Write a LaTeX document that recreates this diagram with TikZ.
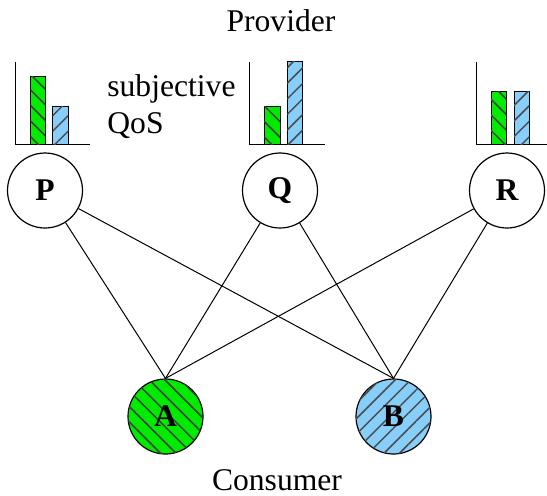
\documentclass[tikz,border=0pt]{standalone}
\usepackage{fontspec}
\setmainfont{LiberationSerif}[Extension=.ttf, UprightFont=*-Regular, BoldFont=*-Bold, ItalicFont=*-Italic, BoldItalicFont=*-BoldItalic]
\usetikzlibrary{patterns.meta}
\definecolor{qgreen}{RGB}{0,235,0}
\definecolor{qblue}{RGB}{135,206,250}
\tikzset{
  txt/.style={font=\fontsize{15.8}{18}\selectfont, inner sep=0pt},
  peer/.style={circle, draw, line width=0.6pt, minimum size=37.5pt, inner sep=0pt,
    font=\fontsize{15.8}{18}\selectfont\bfseries},
  ghatch/.style={fill=qgreen, postaction={pattern={Lines[angle=-45,distance=5.5pt,line width=0.75pt]}, pattern color=black!75}},
  bhatch/.style={fill=qblue, postaction={pattern={Lines[angle=45,distance=5.5pt,line width=0.75pt]}, pattern color=black!70}},
  bar/.style={draw, line width=0.5pt},
  axis/.style={line width=0.5pt},
  conn/.style={line width=0.5pt}
}
\begin{document}
\begin{tikzpicture}[x=0.5pt,y=-0.5pt]
\useasboundingbox (0,0) rectangle (547,495);
% titles
\node[txt, anchor=base] (prov) at (281,31) {Provider};
\node[txt, anchor=base] (cons) at (277,490) {Consumer};
\node[txt, anchor=base west] (subj) at (107,96) {subjective};
\node[txt, anchor=base west] (qos) at (107,133) {QoS};
% bar charts
\draw[axis] (15,62) -- (15,144) -- (90,144);
\draw[bar, ghatch] (30.7,144) rectangle (45.3,76);
\draw[bar, bhatch] (52.7,144) rectangle (68.3,106);
\draw[axis] (249.3,62) -- (249.3,144) -- (325,144);
\draw[bar, ghatch] (264.3,144) rectangle (280,106.7);
\draw[bar, bhatch] (287.3,144) rectangle (302.7,61);
\draw[axis] (476.7,62) -- (476.7,144) -- (547,144);
\draw[bar, ghatch] (491,144) rectangle (506.7,91.7);
\draw[bar, bhatch] (514,144) rectangle (529.3,91.7);
% providers
\node[peer] (P) at (45,190.5) {P};
\node[peer] (Q) at (280,190.5) {Q};
\node[peer] (R) at (507,190.5) {R};
% consumers
\node[peer, ghatch] (A) at (165.5,416.5) {A};
\node[peer, bhatch] (B) at (393.5,416.5) {B};
% connectors
\foreach \s in {P,Q,R}{
  \draw[conn] (\s) -- (A.north);
  \draw[conn] (\s) -- (B.north);
}
\end{tikzpicture}
\end{document}
